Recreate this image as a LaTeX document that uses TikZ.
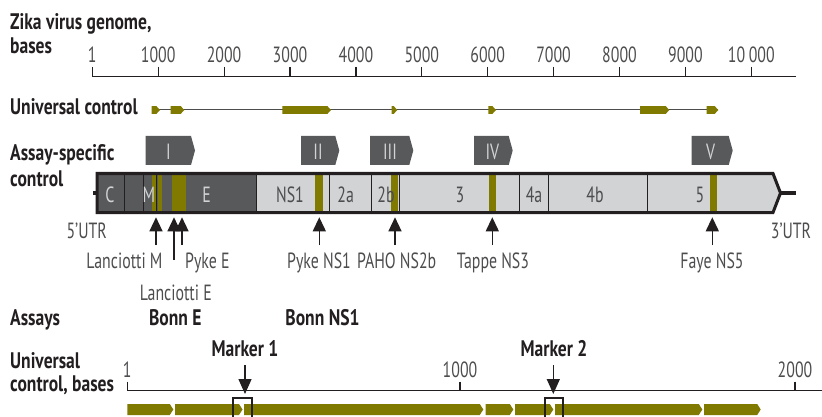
\documentclass[tikz,border=0pt]{standalone}
\usepackage{fontspec}
\setmainfont{PT Sans}[FakeStretch=0.72,BoldFeatures={FakeStretch=0.78}]
\usetikzlibrary{arrows.meta}
\definecolor{zOlive}{RGB}{129,122,0}
\definecolor{zDark}{RGB}{88,89,91}
\definecolor{zLight}{RGB}{209,211,212}
\definecolor{zText}{RGB}{77,77,79}
\definecolor{zInk}{RGB}{35,31,32}

\begin{document}
\begin{tikzpicture}[x=1pt,y=-1pt,
  lab/.style={font=\fontsize{22.5}{24}\selectfont\bfseries,text=zInk,inner sep=0pt,anchor=base west},
  blab/.style={lab,anchor=base},
  num/.style={font=\fontsize{22}{24}\selectfont,text=zText,inner sep=0pt,anchor=base},
  rom/.style={font=\fontsize{22}{24}\selectfont,text=zLight,inner sep=0pt},
  ax/.style={draw=zInk,line width=1.2pt},
  divd/.style={draw=zInk,line width=1pt},
  mk/.style={draw=zInk,line width=1.3pt,-{Triangle[length=14pt,width=13pt]}},
  mbox/.style={draw=zInk,line width=2.2pt}]
  \useasboundingbox (0,0) rectangle (822,417);

  % genome axis
  \node[lab] (t1) at (10,30) {Zika virus genome,};
  \node[lab] (t2) at (10,53.5) {bases};
  \draw[ax] (92.3,76.3) -- (795.7,76.3);
  \foreach \x/\t [count=\i] in {92.3/1,158.2/1000,224.1/2000,290/3000,355.9/4000,421.8/5000,487.7/6000,553.6/7000,619.5/8000,685.4/9000,751.3/10\,000}{
    \draw[ax] (\x,67) -- (\x,76.3);
    \node[num] (g\i) at (\x,63) {\t};
  }

  % universal control on the genome
  \node[lab] (uc) at (10,115) {Universal control};
  \draw[draw=zText,line width=1pt] (151.7,110) -- (718.3,110);
  \foreach \a/\b in {151.7/160,170.7/184.3,282.3/331,391.7/397.3,488.3/496,640/669.3,706.7/718.3}
    \fill[zOlive] (\a,106.2) -- ({\b-3.5},106.2) -- (\b,110) -- ({\b-3.5},113.8) -- (\a,113.8) -- cycle;

  % assay-specific control
  \node[lab] (as1) at (10,160.7) {Assay-specific};
  \node[lab] (as2) at (10,186) {control};
  \foreach \a/\b/\c/\t in {145.7/195/168.5/I,301/339.3/318/II,370/413.3/390/III,474/512.7/492.3/IV,691.7/732.7/710.7/V}{
    \fill[zDark] (\a,136) -- ({\b-4},136) -- (\b,150.5) -- ({\b-4},165) -- (\a,165) -- cycle;
    \node[rom] (r\t) at (\c,152) {\t};
  }

  % genome bar
  \fill[zDark] (97,173.5) rectangle (256.3,212.5);
  \fill[zLight] (256.3,173.5) -- (773,173.5) -- (780.5,193) -- (773,212.5) -- (256.3,212.5) -- cycle;
  \foreach \a/\b in {151.7/156.7,157.7/161.9,171.7/186,315/322.7,391/397.7,489.3/496,710/716.7}
    \fill[zOlive] (\a,173.5) rectangle (\b,212.5);
  \foreach \x in {124,143.5,156.7,329,371.7,399.5,519,548,647.3}
    \draw[divd] (\x,173.5) -- (\x,212.5);
  \draw[divd,line width=1.6pt] (256.3,173.5) -- (256.3,212.5);
  \draw[zInk,line width=3pt] (97,173.5) -- (773,173.5) -- (780.5,193) -- (773,212.5) -- (97,212.5) -- cycle;
  \draw[zInk,line width=3.5pt] (780.5,193) -- (795.7,193);
  \draw[zInk,line width=4pt] (93,193) -- (97,193);
  \foreach \x/\t [count=\i] in {110/C,149/M,206.7/E}
    \node[num,text=zLight] (d\i) at (\x,202.5) {\t};
  \foreach \x/\t [count=\i] in {290/NS1,345.7/2a,386/2b,460/3,534/4a,595/4b,700/5}
    \node[num] (n\i) at (\x,202.5) {\t};
  \node[num] (u5) at (86.7,238) {5’UTR};
  \node[num] (u3) at (791,238) {3’UTR};

  % assay targets
  \foreach \x/\n/\y in {156/lm/245,174/le/260,182/pe/245,319.3/pn/245,395/ph/245,492.3/tp/245,712.3/fy/245}{
    \coordinate (s\n) at (\x,\y);
    \coordinate (h\n) at (\x,217.3);
    \draw[mk] (s\n) -- (h\n);
  }
  \node[num] (lLM) at (124.5,268.3) {Lanciotti M};
  \node[num,anchor=base west] (lPE) at (185,268.3) {Pyke E};
  \node[num] (lLE) at (175.8,300) {Lanciotti E};
  \node[num] (lPN) at (319,268.3) {Pyke NS1};
  \node[num] (lPH) at (396.7,268.3) {PAHO NS2b};
  \node[num] (lTP) at (493,268.3) {Tappe NS3};
  \node[num] (lFY) at (712,268.3) {Faye NS5};

  % assays
  \node[lab] (ay) at (10,325) {Assays};
  \node[blab] (bE) at (175.3,325) {Bonn E};
  \node[blab] (bN) at (322.5,325) {Bonn NS1};

  % universal control axis
  \node[lab] (ub1) at (10,368.3) {Universal};
  \node[lab] (ub2) at (10,391.7) {control, bases};
  \draw[ax] (127.3,390.7) -- (822,390.7);
  \foreach \x/\t [count=\i] in {127.3/1,460/1000,795/2000}{
    \draw[ax] (\x,381.7) -- (\x,390.7);
    \node[num] (b\i) at (\x,377.5) {\t};
  }
  \foreach \a/\b in {127.3/173.3,175/242.5,244/483.3,485.7/513.3,515/553.3,555/702.3,704/760.7}
    \fill[zOlive] (\a,404) -- ({\b-3.5},404) -- (\b,409.5) -- ({\b-3.5},415) -- (\a,415) -- cycle;
  \node[blab] (m1) at (245,356.7) {Marker 1};
  \node[blab] (m2) at (554,356.7) {Marker 2};
  \coordinate (m1s) at (245,365);
  \coordinate (m1h) at (245,394);
  \coordinate (m2s) at (553.3,365);
  \coordinate (m2h) at (553.3,394);
  \draw[mk,-{Triangle[length=15pt,width=13pt]}] (m1s) -- (m1h);
  \draw[mk,-{Triangle[length=15pt,width=13pt]}] (m2s) -- (m2h);
  \draw[mbox] (233.3,420) |- (252.3,398.3) -- (252.3,420);
  \draw[mbox] (545,420) |- (563.3,398.3) -- (563.3,420);
\end{tikzpicture}
\end{document}
